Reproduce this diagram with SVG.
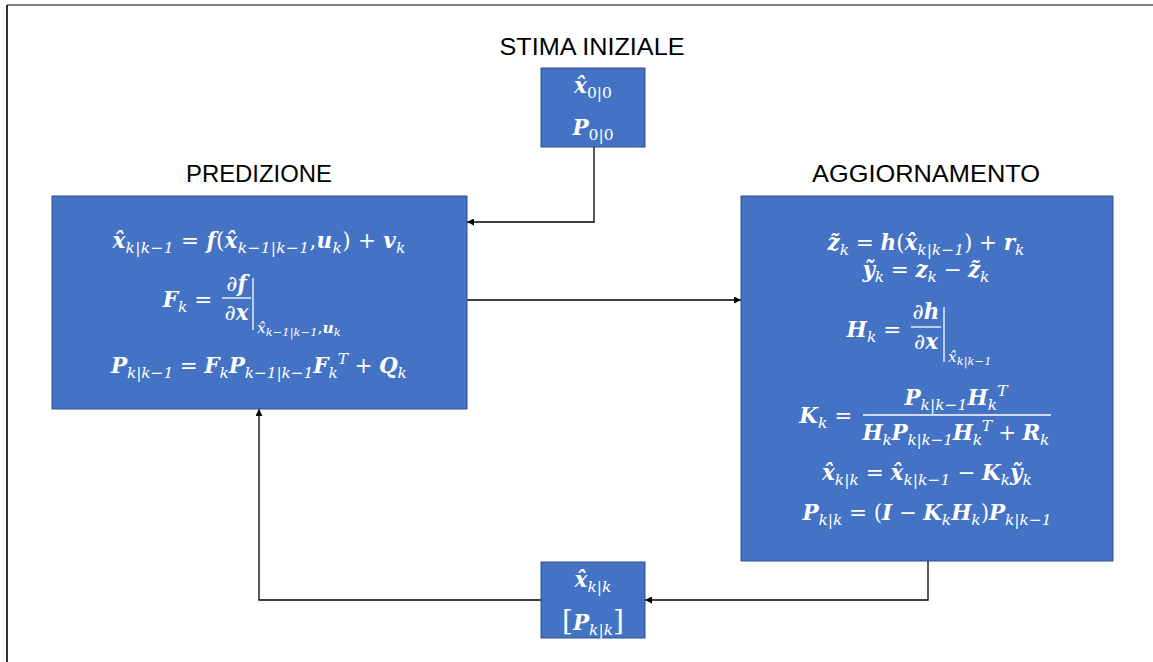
<svg xmlns="http://www.w3.org/2000/svg" width="1153" height="662" viewBox="0 0 1153 662">
<style>
.lbl{font-family:"Liberation Sans",Arial,sans-serif;font-size:24px;fill:#000}
.box{fill:#4472C4;stroke:#2F528F;stroke-width:1}
.m{font-family:"DejaVu Serif","Liberation Serif",serif;font-size:21.5px;fill:#fff;white-space:pre}
.v{font-weight:bold;font-style:italic}
.o{font-weight:normal;font-style:normal}
.s{font-size:15.5px;font-style:italic;font-weight:normal}
.ss{font-size:11.5px;font-style:italic;font-weight:normal}
.n{font-size:15.5px;font-style:normal;font-weight:normal}
.conn{fill:none;stroke:#000;stroke-width:1.3}
.fl{stroke:#fff;stroke-width:1.3}
</style>
<defs>
<marker id="arr" viewBox="0 0 10 10" refX="10" refY="5" markerWidth="7" markerHeight="7" markerUnits="userSpaceOnUse" orient="auto">
<path d="M0,0 L10,5 L0,10 z" fill="#000"/>
</marker>
</defs>
<rect width="1153" height="662" fill="#fff"/>
<path d="M7,5 H1153" stroke="#7f7f7f" stroke-width="2" fill="none"/>
<path d="M7,5 V662" stroke="#333" stroke-width="2" fill="none"/>

<g id="connectors">
<path class="conn" d="M594,147 V222 H467" marker-end="url(#arr)"/>
<path class="conn" d="M467,300 H741" marker-end="url(#arr)"/>
<path class="conn" d="M928,561 V600 H645" marker-end="url(#arr)"/>
<path class="conn" d="M541,600 H259 V409" marker-end="url(#arr)"/>
</g>

<g id="stima">
<text class="lbl" x="592" y="55" text-anchor="middle" textLength="185" lengthAdjust="spacingAndGlyphs">STIMA INIZIALE</text>
<rect class="box" x="541" y="68" width="104" height="79"/>
<text class="m" x="593" y="93" text-anchor="middle"><tspan class="v">x̂</tspan><tspan class="n" dy="5">0|0</tspan></text>
<text class="m" x="593" y="135" text-anchor="middle"><tspan class="v">P</tspan><tspan class="n" dy="5">0|0</tspan></text>
</g>

<g id="predizione">
<text class="lbl" x="259" y="182" text-anchor="middle" textLength="146" lengthAdjust="spacingAndGlyphs">PREDIZIONE</text>
<rect class="box" x="52" y="196" width="415" height="213"/>
<text class="m" x="259" y="248" text-anchor="middle" textLength="293" lengthAdjust="spacing"><tspan class="v">x̂</tspan><tspan class="s" dy="5">k|k−1</tspan><tspan class="o" dy="-5"> = </tspan><tspan class="v">f</tspan><tspan class="o">(</tspan><tspan class="v">x̂</tspan><tspan class="s" dy="5">k−1|k−1</tspan><tspan class="o" dy="-5">,</tspan><tspan class="v">u</tspan><tspan class="s" dy="5">k</tspan><tspan class="o" dy="-5">) + </tspan><tspan class="v">v</tspan><tspan class="s" dy="5">k</tspan></text>
<text class="m" x="219" y="307" text-anchor="end"><tspan class="v">F</tspan><tspan class="s" dy="5">k</tspan><tspan class="o" dy="-5"> = </tspan></text>
<text class="m" x="236.5" y="291" text-anchor="middle"><tspan class="o">∂</tspan><tspan class="v">f</tspan></text>
<line class="fl" x1="222" y1="298" x2="251" y2="298"/>
<text class="m" x="236.5" y="320" text-anchor="middle"><tspan class="o">∂</tspan><tspan class="v">x</tspan></text>
<line class="fl" x1="253" y1="278" x2="253" y2="330"/>
<text class="m" x="257" y="333"><tspan class="s">x̂</tspan><tspan class="ss" dy="3">k−1|k−1</tspan><tspan class="n" dy="-3">,</tspan><tspan class="s" style="font-weight:bold">u</tspan><tspan class="ss" dy="3">k</tspan></text>
<text class="m" x="259" y="373" text-anchor="middle" textLength="296" lengthAdjust="spacing"><tspan class="v">P</tspan><tspan class="s" dy="5">k|k−1</tspan><tspan class="o" dy="-5"> = </tspan><tspan class="v">F</tspan><tspan class="s" dy="5">k</tspan><tspan class="v" dy="-5">P</tspan><tspan class="s" dy="5">k−1|k−1</tspan><tspan class="v" dy="-5">F</tspan><tspan class="s" dy="5">k</tspan><tspan class="s" dy="-14">T</tspan><tspan class="o" dy="9"> + </tspan><tspan class="v">Q</tspan><tspan class="s" dy="5">k</tspan></text>
</g>

<g id="aggiornamento">
<text class="lbl" x="926" y="182" text-anchor="middle" textLength="228" lengthAdjust="spacingAndGlyphs">AGGIORNAMENTO</text>
<rect class="box" x="741" y="196" width="372" height="365"/>
<text class="m" x="926" y="250" text-anchor="middle" textLength="197" lengthAdjust="spacing"><tspan class="v">z̃</tspan><tspan class="s" dy="5">k</tspan><tspan class="o" dy="-5"> = </tspan><tspan class="v">h</tspan><tspan class="o">(</tspan><tspan class="v">x̂</tspan><tspan class="s" dy="5">k|k−1</tspan><tspan class="o" dy="-5">) + </tspan><tspan class="v">r</tspan><tspan class="s" dy="5">k</tspan></text>
<text class="m" x="926" y="277" text-anchor="middle" textLength="127" lengthAdjust="spacing"><tspan class="v">ỹ</tspan><tspan class="s" dy="5">k</tspan><tspan class="o" dy="-5"> = </tspan><tspan class="v">z</tspan><tspan class="s" dy="5">k</tspan><tspan class="o" dy="-5"> − </tspan><tspan class="v">z̃</tspan><tspan class="s" dy="5">k</tspan></text>
<text class="m" x="908" y="337" text-anchor="end"><tspan class="v">H</tspan><tspan class="s" dy="5">k</tspan><tspan class="o" dy="-5"> = </tspan></text>
<text class="m" x="926" y="319" text-anchor="middle"><tspan class="o">∂</tspan><tspan class="v">h</tspan></text>
<line class="fl" x1="911" y1="327" x2="941" y2="327"/>
<text class="m" x="926" y="349" text-anchor="middle"><tspan class="o">∂</tspan><tspan class="v">x</tspan></text>
<line class="fl" x1="944" y1="307" x2="944" y2="362"/>
<text class="m" x="948" y="362"><tspan class="s">x̂</tspan><tspan class="ss" dy="3">k|k−1</tspan></text>
<text class="m" x="859" y="423" text-anchor="end"><tspan class="v">K</tspan><tspan class="s" dy="5">k</tspan><tspan class="o" dy="-5"> = </tspan></text>
<text class="m" x="956" y="405" text-anchor="middle"><tspan class="v">P</tspan><tspan class="s" dy="5">k|k−1</tspan><tspan class="v" dy="-5">H</tspan><tspan class="s" dy="5">k</tspan><tspan class="s" dy="-14">T</tspan></text>
<line class="fl" x1="863" y1="415" x2="1051" y2="415"/>
<text class="m" x="956" y="440" text-anchor="middle" textLength="187" lengthAdjust="spacing"><tspan class="v">H</tspan><tspan class="s" dy="5">k</tspan><tspan class="v" dy="-5">P</tspan><tspan class="s" dy="5">k|k−1</tspan><tspan class="v" dy="-5">H</tspan><tspan class="s" dy="5">k</tspan><tspan class="s" dy="-14">T</tspan><tspan class="o" dy="9"> + </tspan><tspan class="v">R</tspan><tspan class="s" dy="5">k</tspan></text>
<text class="m" x="927" y="480" text-anchor="middle" textLength="210" lengthAdjust="spacing"><tspan class="v">x̂</tspan><tspan class="s" dy="5">k|k</tspan><tspan class="o" dy="-5"> = </tspan><tspan class="v">x̂</tspan><tspan class="s" dy="5">k|k−1</tspan><tspan class="o" dy="-5"> − </tspan><tspan class="v">K</tspan><tspan class="s" dy="5">k</tspan><tspan class="v" dy="-5">ỹ</tspan><tspan class="s" dy="5">k</tspan></text>
<text class="m" x="927" y="520" text-anchor="middle" textLength="249" lengthAdjust="spacing"><tspan class="v">P</tspan><tspan class="s" dy="5">k|k</tspan><tspan class="o" dy="-5"> = (</tspan><tspan class="v">I</tspan><tspan class="o"> − </tspan><tspan class="v">K</tspan><tspan class="s" dy="5">k</tspan><tspan class="v" dy="-5">H</tspan><tspan class="s" dy="5">k</tspan><tspan class="o" dy="-5">)</tspan><tspan class="v">P</tspan><tspan class="s" dy="5">k|k−1</tspan></text>
</g>

<g id="stato">
<rect class="box" x="541" y="562" width="104" height="76"/>
<text class="m" x="593" y="587" text-anchor="middle"><tspan class="v">x̂</tspan><tspan class="s" dy="5">k|k</tspan></text>
<text class="m" x="593" y="630" text-anchor="middle"><tspan class="o" style="font-size:28px">[</tspan><tspan class="v">P</tspan><tspan class="s" dy="5">k|k</tspan><tspan class="o" dy="-5" style="font-size:28px">]</tspan></text>
</g>
</svg>
